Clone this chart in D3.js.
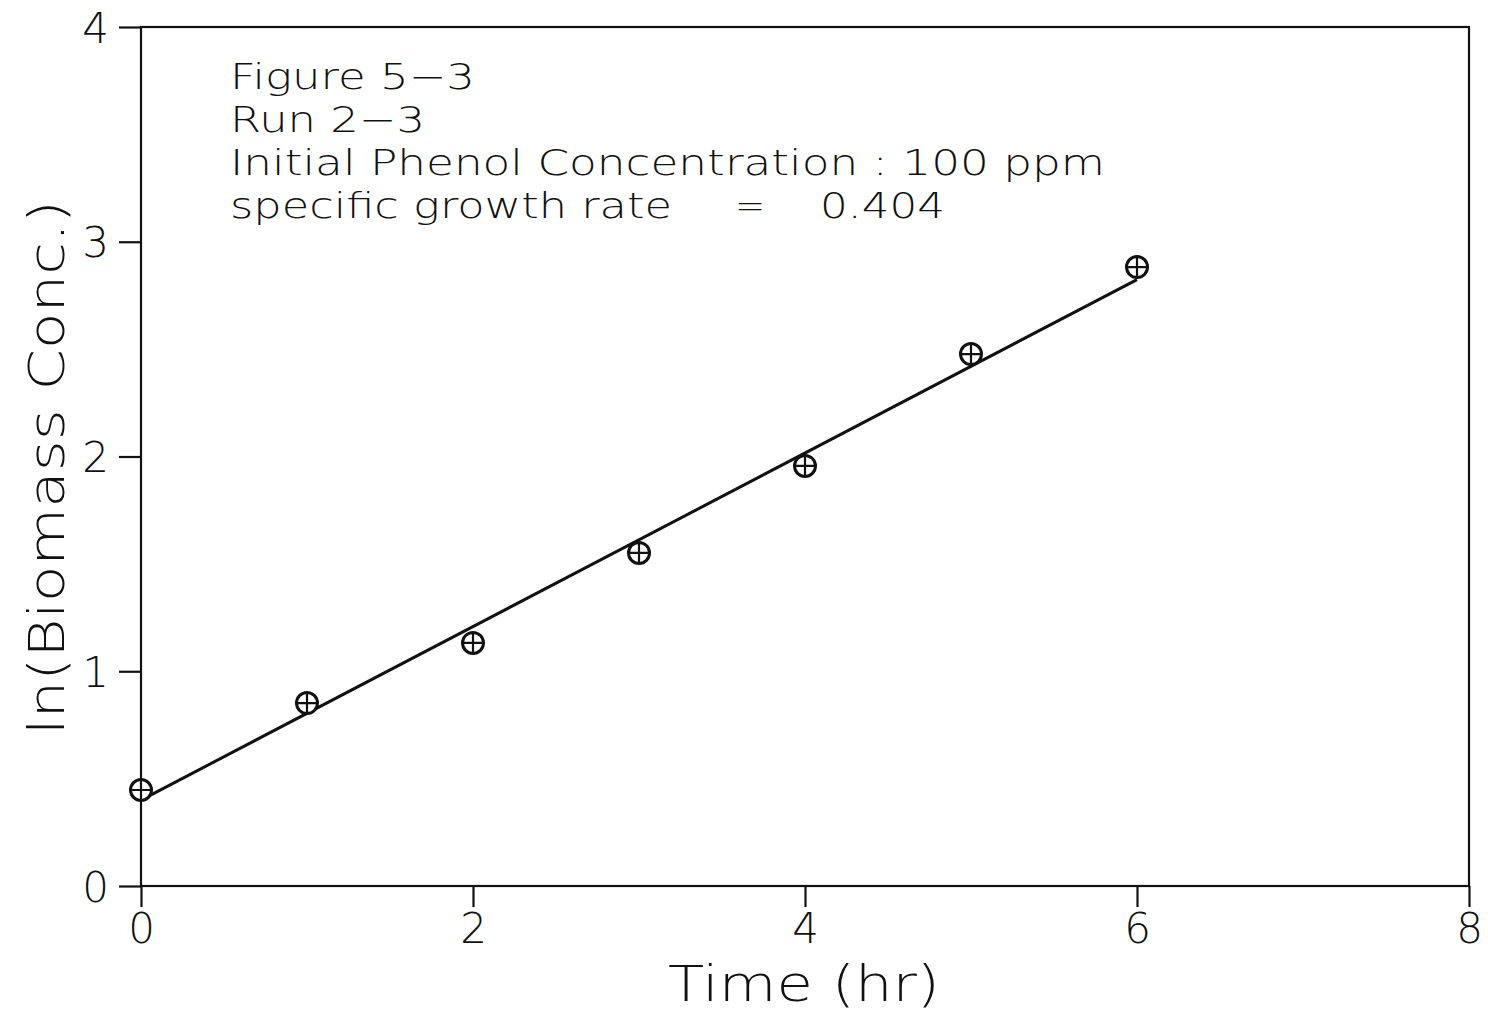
<!DOCTYPE html>
<html>
<head>
<meta charset="utf-8">
<script src="https://cdn.jsdelivr.net/npm/d3@7"></script>
<style>
  html, body { margin: 0; padding: 0; background: #fff; }
  svg { display: block; }
  text { font-family: "DejaVu Sans", sans-serif; font-weight: 200; fill: #111; }
</style>
</head>
<body>
<svg id="chart"></svg>
<script>
// data
const times = [0, 1, 2, 3, 4, 5, 6];
const lnBiomass = [0.447, 0.852, 1.132, 1.551, 1.956, 2.477, 2.882];
const fitIntercept = 0.40;
const fitSlope = 0.404;
const xTicks = [0, 2, 4, 6, 8];
const yTicks = [0, 1, 2, 3, 4];
const noteLines = ["Figure  5\u22123", "Run  2\u22123", "Initial  Phenol  Concentration  :  100  ppm"];
const noteWidths = [245, 195, 875];

const width = 1488, height = 1018;
const svg = d3.select("#chart").attr("width", width).attr("height", height);

const x = d3.scaleLinear().domain([0, 8]).range([141, 1469]);
const y = d3.scaleLinear().domain([0, 4]).range([886, 27]);

// frame
svg.append("rect")
  .attr("x", x(0)).attr("y", y(4))
  .attr("width", x(8) - x(0)).attr("height", y(0) - y(4))
  .attr("fill", "none").attr("stroke", "#111").attr("stroke-width", 2.2);

// axes
const xAxis = svg.append("g")
  .attr("transform", `translate(0,${y(0)})`)
  .call(d3.axisBottom(x).tickValues(xTicks).tickSize(21).tickPadding(6).tickFormat(d3.format("d")));
const yAxis = svg.append("g")
  .attr("transform", `translate(${x(0)},0)`)
  .call(d3.axisLeft(y).tickValues(yTicks).tickSize(22).tickPadding(10).tickFormat(d3.format("d")));

[xAxis, yAxis].forEach(g => {
  g.select(".domain").remove();
  g.selectAll(".tick line").attr("stroke", "#111").attr("stroke-width", 2.2);
  g.selectAll(".tick text")
    .style("font-family", "'DejaVu Sans', sans-serif")
    .style("font-weight", 200)
    .style("font-size", "42px")
    .attr("fill", "#111");
});
yAxis.selectAll(".tick text").attr("dy", "0.36em");

// fitted line
svg.append("line")
  .attr("x1", x(0)).attr("y1", y(fitIntercept))
  .attr("x2", x(6)).attr("y2", y(fitIntercept + fitSlope * 6))
  .attr("stroke", "#111").attr("stroke-width", 3);

// markers: circle with cross
const pts = times.map((t, i) => ({t, v: lnBiomass[i]}));
const mk = svg.append("g").selectAll("g").data(pts).join("g")
  .attr("transform", d => `translate(${x(d.t)},${y(d.v)})`);
mk.append("circle").attr("r", 10.5).attr("fill", "#fff").attr("stroke", "#111").attr("stroke-width", 3);
mk.append("path").attr("d", "M-10.5,0H10.5M0,-10.5V10.5").attr("stroke", "#111").attr("stroke-width", 2.2);

// annotation block
const note = svg.append("g").style("font-size", "36px");
noteLines.forEach((s, i) => {
  note.append("text").attr("x", 230).attr("y", 89 + i * 43)
    .attr("textLength", noteWidths[i]).attr("lengthAdjust", "spacingAndGlyphs")
    .text(s);
});
const rate = note.append("text").attr("y", 89 + 3 * 43);
rate.append("tspan").attr("x", 230).attr("textLength", 442).attr("lengthAdjust", "spacingAndGlyphs").text("specific  growth  rate");
rate.append("tspan").attr("x", 735).text("=");
rate.append("tspan").attr("x", 820).attr("textLength", 125).attr("lengthAdjust", "spacingAndGlyphs").text("0.404");

// axis titles
svg.append("text")
  .attr("x", 668).attr("y", 1001)
  .attr("textLength", 272).attr("lengthAdjust", "spacingAndGlyphs")
  .style("font-size", "50px")
  .text("Time  (hr)");

svg.append("text")
  .attr("transform", "translate(64,735) rotate(-90)")
  .attr("textLength", 535).attr("lengthAdjust", "spacingAndGlyphs")
  .style("font-size", "50px")
  .text("ln(Biomass  Conc.)");
</script>
</body>
</html>
